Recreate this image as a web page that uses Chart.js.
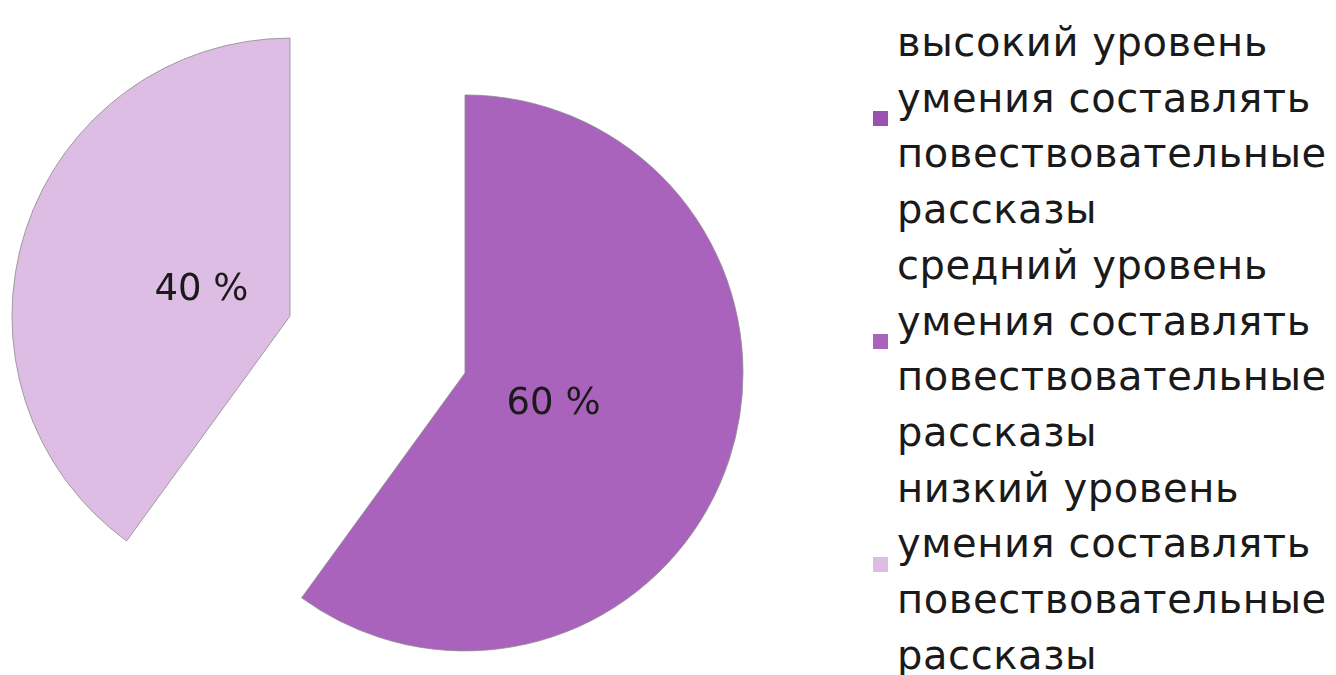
<!DOCTYPE html>
<html lang="ru">
<head>
<meta charset="utf-8">
<title>Уровни умения составлять повествовательные рассказы</title>
<script src="https://cdn.jsdelivr.net/npm/chart.js@4/dist/chart.umd.min.js"></script>
<style>
  html, body { margin: 0; padding: 0; background: #fff; }
  #wrap { position: relative; width: 1336px; height: 675px; overflow: hidden; }
  #chartBox { position: absolute; left: 0; top: 0; width: 860px; height: 675px; }
  #legend { position: absolute; left: 873px; top: 15px; font-family: "DejaVu Sans", sans-serif;
            font-size: 40px; letter-spacing: 0.6px; line-height: 55.7px; color: #1a1a1a; }
  .item { display: flex; align-items: center; }
  .box { width: 15px; height: 15px; flex: none; margin-right: 9px; position: relative; top: -8px; }
  .txt { white-space: pre-line; }
</style>
</head>
<body>
<div id="wrap">
  <div id="chartBox"><canvas id="pie"></canvas></div>
  <div id="legend"></div>
</div>
<script>
// категории и значения (проценты)
const categories = [
    'высокий уровень\nумения составлять\nповествовательные\nрассказы',
    'средний уровень\nумения составлять\nповествовательные\nрассказы',
    'низкий уровень\nумения составлять\nповествовательные\nрассказы'
];
const values = [0, 60, 40];
const colors = ['#9952B3', '#AA63BD', '#DDBDE3'];
const explode = [92, 92, 92];

// Легенда
const legend = document.getElementById('legend');
categories.forEach((c, i) => {
    const item = document.createElement('div');
    item.className = 'item';
    item.innerHTML = `<span class="box" style="background:${colors[i]}"></span><span class="txt">${c}</span>`;
    legend.appendChild(item);
});

// Разнесённые сектора: каждый сдвигаем по средней линии
const explodePlugin = {
    id: 'explode',
    beforeDatasetDraw(chart, args) {
        const ctx = chart.ctx;
        args.meta.data.forEach((arc, i) => {
            const mid = (arc.startAngle + arc.endAngle) / 2;
            const d = explode[i] || 0;
            ctx.save();
            ctx.translate(Math.cos(mid) * d, Math.sin(mid) * d);
            arc.draw(ctx);
            ctx.restore();
        });
        return false;
    },
    // подписи процентов
    afterDatasetsDraw(chart) {
        const ctx = chart.ctx;
        const meta = chart.getDatasetMeta(0);
        const total = values.reduce((a, b) => a + b, 0);
        ctx.save();
        ctx.font = '37px "DejaVu Sans", sans-serif';
        ctx.fillStyle = '#1a1a1a';
        ctx.textAlign = 'center';
        ctx.textBaseline = 'middle';
        meta.data.forEach((arc, i) => {
            if (!values[i]) return;
            const mid = (arc.startAngle + arc.endAngle) / 2;
            const r = explode[i] + arc.outerRadius * 0.335;
            const x = arc.x + Math.cos(mid) * r;
            const y = arc.y + Math.sin(mid) * r + 3;
            ctx.fillText(Math.round(values[i] / total * 100) + ' %', x, y);
        });
        ctx.restore();
    }
};

const ctx = document.getElementById('pie').getContext('2d');
new Chart(ctx, {
    type: 'pie',
    data: {
        labels: categories,
        datasets: [{
            data: values,
            backgroundColor: colors,
            borderColor: 'rgba(140, 140, 140, 0.8)',
            borderWidth: 1
        }]
    },
    options: {
        responsive: true,
        maintainAspectRatio: false,
        animation: false,
        layout: { padding: { left: 99, top: 66, right: 204, bottom: 52 } },
        plugins: {
            legend: { display: false },
            tooltip: { enabled: false }
        },
        events: []
    },
    plugins: [explodePlugin]
});
</script>
</body>
</html>
